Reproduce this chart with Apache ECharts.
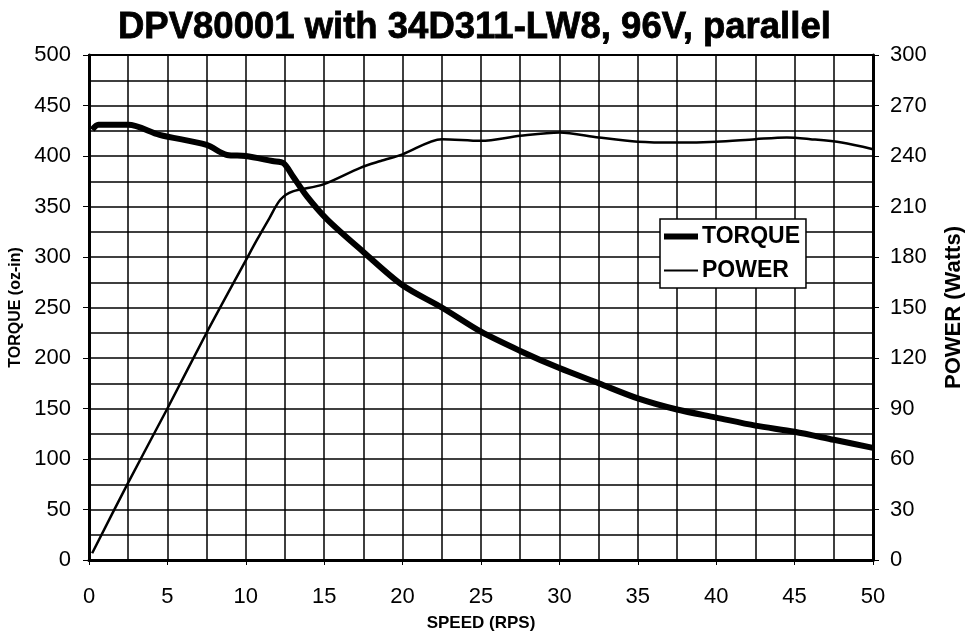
<!DOCTYPE html>
<html>
<head>
<meta charset="utf-8">
<script src="https://cdn.jsdelivr.net/npm/echarts@6/dist/echarts.min.js"></script>
<style>
  html, body { margin: 0; padding: 0; background: #fff; }
  #chart { width: 966px; height: 637px; }
</style>
</head>
<body>
<div id="chart"></div>
<script>
// speed (RPS) vs torque (oz-in)
const torqueSpeed = [0.2, 0.6, 2.5, 4.5, 7.5, 8.8, 10, 11.7, 12.4, 13, 13.9, 15.2, 17.5, 20, 22.5, 25, 27.5, 30, 32.5, 35, 37.5, 40, 42.5, 45, 47.5, 50];
const torqueVal = [426, 431, 431, 421, 411, 401, 400, 395, 393, 380, 360, 337, 305, 272, 250, 226, 207, 190, 175, 160, 149, 141, 133, 127, 119, 111];
// speed (RPS) vs power (Watts)
const powerSpeed = [0.2, 2.5, 5, 7.5, 10, 10.7, 11.5, 12.2, 13, 14.9, 17.3, 18.6, 20, 22.5, 25, 27.5, 30, 32.5, 35, 37.5, 40, 42.5, 44.5, 46, 48, 50];
const powerVal = [4, 46, 90, 135, 178, 190, 203, 214, 219, 223, 233, 237, 241, 250, 249, 252, 254, 251, 248.5, 248, 248.5, 250, 251, 250, 248, 244];

const chart = echarts.init(document.getElementById("chart"));
const fontFam = "'Liberation Sans', Arial, sans-serif";

// legend icons: bar inside a box so thick/thin lines keep their height
const thickIcon = "path://M0,0 L0.01,0 Z M0,5 H34 V11 H0 Z M0,16 L0.01,16 Z";
const thinIcon = "path://M0,0 L0.01,0 Z M0,7 H34 V9 H0 Z M0,16 L0.01,16 Z";

let option = {
    backgroundColor: "#fff",
    animation: false,
    title: {
        text: "DPV80001 with 34D311-LW8, 96V, parallel",
        left: 113,
        top: 4,
        textStyle: {
            fontFamily: fontFam, fontSize: 36.5, fontWeight: "bold", color: "#000",
            textBorderColor: "#000", textBorderWidth: 0.8,
        },
    },
    grid: {
        left: 89, right: 93, top: 55, bottom: 77,
        outerBoundsMode: "none",
        containLabel: false,
        show: true, borderColor: "#000", borderWidth: 2,
    },
    legend: {
        orient: "vertical",
        left: 660, top: 219,
        itemWidth: 34, itemHeight: 16,
        itemGap: 11,
        padding: [6, 6, 6, 4],
        borderColor: "#000", borderWidth: 1.5,
        backgroundColor: "#fff",
        textStyle: { fontFamily: fontFam, fontSize: 23, fontWeight: "bold", color: "#000", padding: [0, 0, 0, -1] },
        data: [
            { name: "TORQUE", icon: thickIcon },
            { name: "POWER", icon: thinIcon },
        ],
    },
    xAxis: {
        type: "value",
        min: 0, max: 50, interval: 5,
        name: "SPEED (RPS)",
        nameLocation: "middle",
        nameGap: 55,
        nameTextStyle: { fontFamily: fontFam, fontSize: 17, fontWeight: "bold", color: "#000" },
        axisLine: { lineStyle: { color: "#000", width: 3 } },
        axisTick: { show: true, length: 5, lineStyle: { color: "#000" } },
        axisLabel: { fontFamily: fontFam, fontSize: 22, color: "#000", margin: 26 },
        splitLine: { lineStyle: { color: "#000", width: 1.5 } },
        minorTick: { show: false, splitNumber: 2 },
        minorSplitLine: { show: true, lineStyle: { color: "#000", width: 1.5 } },
    },
    yAxis: [
        {
            type: "value",
            min: 0, max: 500, interval: 50,
            name: "TORQUE (oz-in)",
            nameLocation: "middle",
            nameRotate: 90,
            nameGap: 56,
            nameTextStyle: { fontFamily: fontFam, fontSize: 16, fontWeight: "bold", color: "#000" },
            axisLine: { show: true, lineStyle: { color: "#000", width: 3 } },
            axisTick: { show: true, length: 6, lineStyle: { color: "#000" } },
            axisLabel: { fontFamily: fontFam, fontSize: 22, color: "#000", margin: 18 },
            splitLine: { lineStyle: { color: "#000", width: 1.5 } },
            minorTick: { show: false, splitNumber: 2 },
            minorSplitLine: { show: true, lineStyle: { color: "#000", width: 1.5 } },
        },
        {
            type: "value",
            min: 0, max: 300, interval: 30,
            name: "POWER (Watts)",
            nameLocation: "middle",
            nameRotate: 90,
            nameGap: 70,
            nameTextStyle: { fontFamily: fontFam, fontSize: 22, fontWeight: "bold", color: "#000" },
            axisLine: { show: true, lineStyle: { color: "#000", width: 3 } },
            axisTick: { show: true, length: 6, lineStyle: { color: "#000" } },
            axisLabel: { fontFamily: fontFam, fontSize: 22, color: "#000", margin: 17 },
            splitLine: { show: false },
        },
    ],
    series: [
        {
            name: "TORQUE",
            type: "line",
            yAxisIndex: 0,
            smooth: 0.3,
            symbol: "none",
            lineStyle: { color: "#000", width: 6 },
            itemStyle: { color: "#000" },
            data: torqueSpeed.map((s, i) => [s, torqueVal[i]]),
        },
        {
            name: "POWER",
            type: "line",
            yAxisIndex: 1,
            smooth: 0.3,
            symbol: "none",
            lineStyle: { color: "#000", width: 2.5 },
            itemStyle: { color: "#000" },
            data: powerSpeed.map((s, i) => [s, powerVal[i]]),
        },
    ],
};
chart.setOption(option);
</script>
</body>
</html>
